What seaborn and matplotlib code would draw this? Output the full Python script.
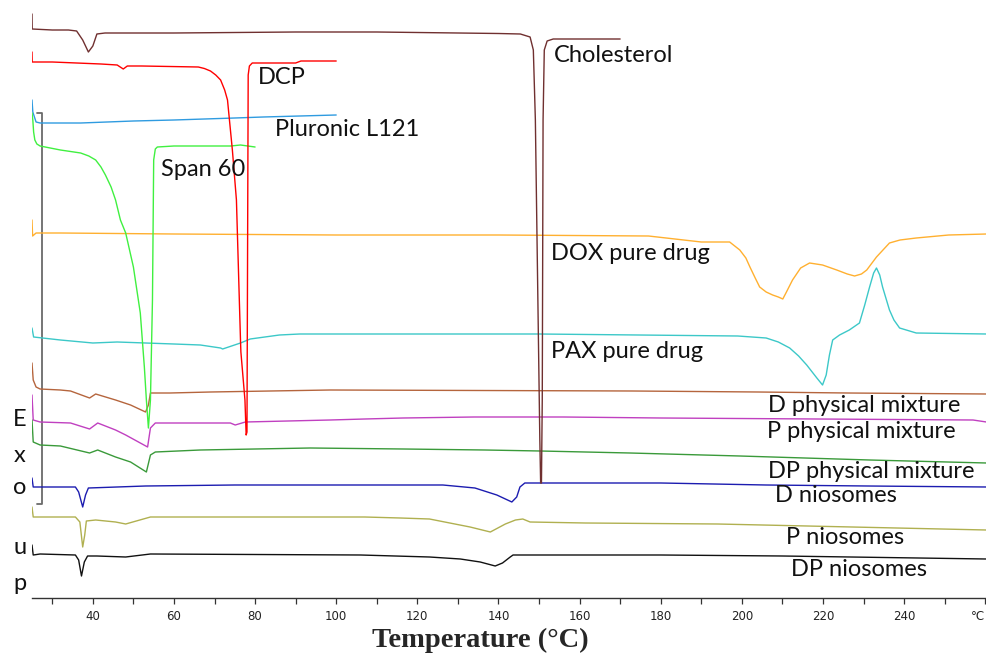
import numpy as np
import pandas as pd
import matplotlib
matplotlib.use("Agg")
import matplotlib.pyplot as plt
import seaborn as sns

# ---- data: temperature (°C) and stacked DSC signal (offset units, exo up at top) ----
chol_T = [25, 25.05, 30, 34, 36, 37.5, 38.9, 40, 41, 43, 60, 90, 110, 140, 145.4, 147.8, 148.6, 149.1, 150.2, 150.4, 150.6, 150.8, 151.0, 151.3, 152, 153.5, 160, 170]
chol_y = [14, 29, 30, 30, 31, 40, 52, 46, 34, 33, 33, 32, 32, 33.5, 34, 37, 50, 120, 440, 483, 483, 400, 120, 50, 41, 39, 39, 39]

dcp_T = [25, 25.05, 30, 42, 46, 47.5, 48.5, 52, 66, 67.5, 69, 70.3, 71.5, 72.5, 73.2, 74.4, 75.4, 75.9, 76.4, 76.5, 77.5, 77.8, 78.0, 78.15, 78.3, 78.6, 79.3, 90, 91.3, 100]
dcp_y = [52, 62, 62, 64, 65, 69, 66, 66, 67, 68.5, 71, 75, 80, 90, 100, 150, 200, 270, 340, 352, 400, 435, 432, 250, 75, 66, 63, 63, 61, 61]

plu_T = [25, 25.2, 26, 27, 37, 50, 60, 75, 82, 100]
plu_y = [100, 112, 122, 123, 123, 121, 120, 118, 117, 115]

span_T = [25, 25.2, 25.4, 25.7, 26.2, 27, 32, 37, 39, 40.7, 42, 43.1, 44.5, 45.6, 46.8, 48.1, 50, 51.7, 52.7, 53.2, 53.7, 54.2, 54.7, 55.0, 55.4, 55.9, 60, 74, 76.4, 80]
span_y = [113, 120, 132, 140, 144, 146, 150, 153, 156, 160, 167, 175, 187, 200, 220, 233, 267, 313, 367, 400, 428, 400, 300, 160, 149, 147, 146, 146, 145, 147]

dox_T = [25, 25.15, 26, 32, 60, 100, 140, 177, 190, 197, 199.5, 201, 202, 203.3, 204.4, 206, 207.6, 209, 210.1, 211, 212.5, 214.5, 216.7, 219.9, 223.4, 226, 227.8, 229.5, 230.8, 233.2, 236.4, 239, 243, 251, 260.3]
dox_y = [220, 236, 233, 233, 234, 235, 235, 236, 242, 242, 250, 258, 267, 278, 287, 292, 295, 297, 299, 292, 280, 268, 263, 265, 270, 274, 276, 274, 270, 257, 243, 240, 238, 235, 234]

pax_T = [25, 25.4, 32, 40, 46, 60, 66.5, 71.5, 72, 76.4, 78.8, 86, 91, 150, 199, 206, 209, 211.8, 214, 216, 218.5, 219.9, 220.8, 221.6, 222.4, 224.1, 226.5, 229, 230.3, 231.5, 232.5, 233.2, 234, 234.7, 236.4, 237.5, 238.9, 243, 260.3]
pax_y = [328, 337, 340, 343, 342, 344, 345, 348, 349, 343, 339, 335, 334, 334, 336, 338, 342, 348, 356, 365, 378, 385, 375, 355, 340, 335, 330, 323, 305, 287, 273, 268, 275, 287, 310, 320, 328, 333, 334]

dphys_T = [25, 25.3, 26, 27, 32, 34.5, 39.2, 40.7, 45.6, 49.3, 53, 53.7, 54.2, 59, 69, 98.5, 173, 204, 226, 260.3]
dphys_y = [363, 380, 387, 389, 390, 391, 398, 394, 400, 405, 412, 405, 393, 393, 392, 390, 391, 392, 393, 394]

pphys_T = [25, 25.3, 27, 34.5, 39.2, 41.2, 45.6, 48.1, 53.5, 54.2, 55.4, 73.9, 75.1, 77.6, 98.5, 107, 116.5, 134, 156, 180, 257, 260.3]
pphys_y = [395, 420, 422, 423, 429, 423, 430, 435, 447, 428, 423, 423, 425, 422, 420, 419, 418, 417, 417, 418, 420, 422]

dpphys_T = [25, 25.3, 27, 32, 39.2, 41.2, 45.6, 49.3, 53.2, 54.2, 55.4, 66.5, 93.6, 116.5, 136.7, 150.3, 161.4, 172.4, 199.5, 231.5, 260.3]
dpphys_y = [420, 442, 445, 446, 453, 450, 457, 462, 472, 455, 452, 450, 448, 449, 450, 451, 452, 453, 456, 460, 463]

dnio_T = [25, 25.3, 35.7, 36.5, 37.5, 38.2, 38.9, 53, 75, 100, 126.3, 134.2, 139.6, 143.3, 144.5, 145.3, 146.5, 180, 206, 231, 260.3]
dnio_y = [478, 487, 487, 492, 507, 495, 488, 486, 485, 485, 485, 488, 495, 502, 497, 487, 483, 483, 485, 486, 487]

pnio_T = [25, 25.3, 35.7, 36.8, 37.5, 38, 38.4, 40.7, 45.6, 48.1, 54.2, 107, 115.8, 123, 133, 138, 141.7, 144.2, 146, 147.8, 161.4, 194, 260.3]
pnio_y = [507, 517, 517, 522, 547, 535, 521, 520, 522, 524, 517, 517, 518, 519, 527, 532, 524, 520, 519, 522, 523, 524, 530]

dpnio_T = [25, 25.3, 27, 35.7, 36.5, 37.2, 37.9, 38.7, 41, 48.1, 54.2, 106, 123, 130.6, 135.5, 139.2, 141, 142.9, 143.6, 180, 210, 260.3]
dpnio_y = [545, 555, 554, 555, 560, 576, 562, 556, 556, 557, 554, 555, 557, 559, 562, 566, 563, 557, 555, 555, 556, 559]

names = ["DOX pure drug", "PAX pure drug", "D physical mixture", "P physical mixture",
         "DP physical mixture", "D niosomes", "P niosomes", "DP niosomes",
         "Pluronic L121", "Span 60", "DCP", "Cholesterol"]
series_T = [dox_T, pax_T, dphys_T, pphys_T, dpphys_T, dnio_T, pnio_T, dpnio_T, plu_T, span_T, dcp_T, chol_T]
series_y = [dox_y, pax_y, dphys_y, pphys_y, dpphys_y, dnio_y, pnio_y, dpnio_y, plu_y, span_y, dcp_y, chol_y]
colors = ["#ffb030", "#3cc8c8", "#b5653d", "#c040c0", "#3a9a3a", "#1c1cb0", "#b0b050", "#111111",
          "#2f9be0", "#40f040", "#ff0000", "#703030"]

# label anchor (temperature, signal) for the annotations
label_T = [153.0, 153.0, 206.4, 206.2, 206.4, 208.3, 211.0, 212.2, 84.8, 56.7, 80.8, 153.6]
label_y = [253, 351, 405, 432, 471, 496, 537, 569, 130, 170, 77, 55]

xticks_major = [40, 60, 80, 100, 120, 140, 160, 180, 200, 220, 240, 260]
xtick_labels = ["40", "60", "80", "100", "120", "140", "160", "180", "200", "220", "240", "°C"]
xticks_minor = [30, 50, 70, 90, 110, 130, 150, 170, 190, 210, 230, 250]

# ---- figure ----
sns.set_style("white")
plt.rcParams["font.family"] = ["Lato", "DejaVu Sans"]

W, H = 987, 658
fig = plt.figure(figsize=(W / 100, H / 100), dpi=100)
ax = fig.add_axes([32 / W, (H - 598) / H, 954 / W, 598 / H])

frames = []
for n, t, y in zip(names, series_T, series_y):
    frames.append(pd.DataFrame({"T": t, "signal": y, "sample": n}))
df = pd.concat(frames, ignore_index=True)

sns.lineplot(data=df, x="T", y="signal", hue="sample", hue_order=names,
             palette=dict(zip(names, colors)), estimator=None, sort=False,
             linewidth=1.0, legend=False, ax=ax)

# scale bracket
ax.plot([26.2, 27.4, 27.4, 26.2], [113, 113, 504, 504], color="#6a6a6a", lw=1.3, zorder=0)

for n, tx, ty in zip(names, label_T, label_y):
    ax.text(tx, ty, n, fontsize=17, color="#111111", va="center", ha="left")

ax.set_xlim(25, 260.2)
ax.set_ylim(598, 0)
ax.set_yticks([])
ax.set_xticks(xticks_major)
ax.set_xticklabels(xtick_labels, fontfamily="DejaVu Sans", fontsize=8.5, color="#222222")
ax.get_xticklabels()[-1].set_horizontalalignment("right")
ax.set_xticks(xticks_minor, minor=True)
ax.tick_params(axis="x", which="both", direction="out", length=4, width=0.9,
               color="#333333", pad=5, bottom=True)
for s in ["left", "top", "right"]:
    ax.spines[s].set_visible(False)
ax.spines["bottom"].set_color("#333333")
ax.spines["bottom"].set_linewidth(1.0)
ax.set_ylabel("")
ax.set_xlabel("Temperature (°C)", fontfamily="Liberation Serif", fontweight="bold",
              fontsize=20.5, labelpad=6)
ax.xaxis.set_label_coords((480 - 32) / 954, -(640 - 598) / 598)
ax.xaxis.label.set_verticalalignment("center")

for letter, row in zip(["E", "x", "o", "u", "p"], [420, 455, 488, 548, 583]):
    fig.text(20 / W, 1 - row / H, letter, fontsize=17, ha="center", va="center", color="#111111")

fig.savefig("out.png", dpi=100)
